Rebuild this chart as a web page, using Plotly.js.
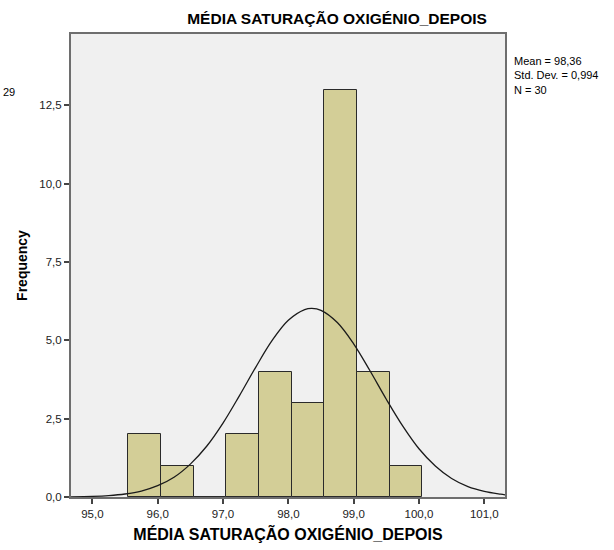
<!DOCTYPE html>
<html>
<head>
<meta charset="utf-8">
<script src="https://cdn.plot.ly/plotly-3.0.1.min.js"></script>
<style>html,body{margin:0;padding:0;background:#fff;}#chart{width:614px;height:550px;}</style>
</head>
<body>
<div id="chart"></div>
<script>
// Histogram bins (centres of 0.5-wide bins) and frequencies
const binCenters = [95.8, 96.3, 96.8, 97.3, 97.8, 98.3, 98.8, 99.3, 99.8];
const frequencies = [2, 1, 0, 2, 4, 3, 13, 4, 1];
const binWidth = 0.5;

// Normal curve
const curveX = [94.67, 95.0, 95.25, 95.5, 95.75, 96.0, 96.25, 96.5, 96.75, 97.0, 97.25, 97.5, 97.75, 98.0, 98.25, 98.36, 98.5, 98.75, 99.0, 99.25, 99.5, 99.75, 100.0, 100.25, 100.5, 100.75, 101.0, 101.25, 101.32];
const curveY = [0.006, 0.02, 0.045, 0.096, 0.19, 0.36, 0.63, 1.05, 1.62, 2.36, 3.23, 4.14, 4.99, 5.64, 5.98, 6.02, 5.96, 5.57, 4.89, 4.03, 3.12, 2.27, 1.54, 0.99, 0.59, 0.33, 0.18, 0.09, 0.07];

const xTicks = [95, 96, 97, 98, 99, 100, 101];
const yTicks = [0, 2.5, 5, 7.5, 10, 12.5];

const chartTitle = "MÉDIA SATURAÇÃO OXIGÉNIO_DEPOIS";
const xTitle = "MÉDIA SATURAÇÃO OXIGÉNIO_DEPOIS";
const yTitle = "Frequency";
const statsText = ["Mean = 98,36", "Std. Dev. = 0,994", "N = 30"];

const narrow = '"Liberation Sans Narrow", "Arial Narrow", "Liberation Sans", Arial, sans-serif';
const sans = '"Liberation Sans", Arial, sans-serif';

const traces = [
  {
    type: 'bar',
    x: binCenters,
    y: frequencies,
    width: binCenters.map(() => binWidth),
    marker: {color: '#d3ce97', line: {color: '#2a2a2a', width: 1}},
    hoverinfo: 'x+y'
  },
  {
    type: 'scatter',
    mode: 'lines',
    x: curveX,
    y: curveY,
    line: {color: '#1a1a1a', width: 1.3, shape: 'spline', smoothing: 1},
    hoverinfo: 'skip'
  }
];

const layout = {
  width: 614,
  height: 550,
  separators: ',.',
  showlegend: false,
  paper_bgcolor: '#ffffff',
  plot_bgcolor: '#f0f0f0',
  margin: {l: 71, r: 109, t: 34, b: 53, pad: 0},
  bargap: 0,
  title: {
    text: chartTitle,
    font: {family: narrow, size: 15.5, color: '#000', weight: 'bold'},
    x: 0.613, xanchor: 'center', xref: 'paper',
    y: 0.967, yanchor: 'middle'
  },
  xaxis: {
    range: [94.673, 101.317],
    tickvals: xTicks,
    ticktext: xTicks.map(v => v.toFixed(1).replace('.', ',')),
    ticks: 'outside', ticklen: 5, tickwidth: 1.5, tickcolor: '#444',
    tickfont: {family: narrow, size: 11.5, color: '#222'},
    showgrid: false, zeroline: false,
    showline: true, linecolor: '#6e6e6e', linewidth: 2, mirror: true,
    title: {text: xTitle, font: {family: narrow, size: 16, color: '#000', weight: 'bold'}, standoff: 10}
  },
  yaxis: {
    range: [0, 14.78],
    tickvals: yTicks,
    ticktext: yTicks.map(v => v.toFixed(1).replace('.', ',')),
    ticks: 'outside', ticklen: 5, tickwidth: 1.5, tickcolor: '#444',
    tickfont: {family: narrow, size: 11.5, color: '#222'},
    showgrid: false, zeroline: false,
    showline: true, linecolor: '#6e6e6e', linewidth: 2, mirror: true,
    title: {text: yTitle, font: {family: sans, size: 14, color: '#000', weight: 'bold'}, standoff: 8}
  },
  annotations: [
    {
      xref: 'paper', yref: 'paper', x: 1.015, y: 0.958, xanchor: 'left', yanchor: 'top',
      text: statsText.join('<br>'), align: 'left', showarrow: false,
      font: {family: narrow, size: 11, color: '#000'}
    },
    {
      xref: 'paper', yref: 'paper', x: -0.161, y: 0.875, xanchor: 'left', yanchor: 'middle',
      text: '29', showarrow: false,
      font: {family: narrow, size: 11, color: '#000'}
    }
  ]
};

Plotly.newPlot('chart', traces, layout, {displayModeBar: false, responsive: false});
</script>
</body>
</html>
